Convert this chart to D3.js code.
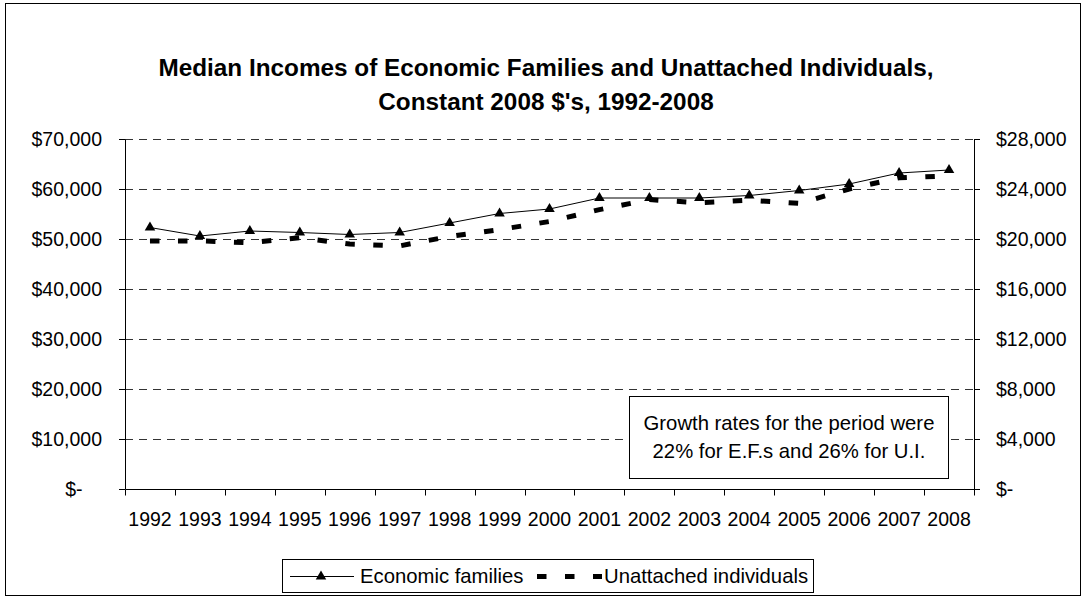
<!DOCTYPE html>
<html>
<head>
<meta charset="utf-8">
<script src="https://cdn.jsdelivr.net/npm/d3@7"></script>
<style>
  body { margin: 0; background: #fff; }
  svg text { font-family: "Liberation Sans", Arial, sans-serif; fill: #000; }
</style>
</head>
<body>
<svg id="chart"></svg>
<script>
const width = 1084;
const height = 596;

// data
const years = ["1992", "1993", "1994", "1995", "1996", "1997", "1998", "1999", "2000",
               "2001", "2002", "2003", "2004", "2005", "2006", "2007", "2008"];
const familyIncome = [52300, 50600, 51600, 51300, 50900, 51300, 53200, 55100, 56000,
                      58200, 58200, 58200, 58700, 59700, 61000, 63200, 63800];
const unattachedIncome = [19850, 19850, 19700, 20100, 19600, 19450, 20200, 20750, 21400,
                          22350, 23150, 22900, 23100, 22850, 24000, 24900, 25050];
const leftTicks = [0, 10000, 20000, 30000, 40000, 50000, 60000, 70000];
const rightTicks = [0, 4000, 8000, 12000, 16000, 20000, 24000, 28000];
const titleLines = ["Median Incomes of Economic Families and Unattached Individuals,",
                    "Constant 2008 $'s, 1992-2008"];
const noteLines = ["Growth rates for the period were", "22% for E.F.s and 26% for U.I."];
const seriesNames = ["Economic families", "Unattached individuals"];

const svg = d3.select("svg#chart");
svg.attr("width", width);
svg.attr("height", height);

// plot area
const plot = { left: 125, right: 974, top: 139, bottom: 489 };

// outer frame
svg.append("rect")
  .attr("x", 5.5).attr("y", 3.5)
  .attr("width", 1075).attr("height", 592)
  .attr("fill", "none")
  .attr("stroke", "#000");

// title
svg.append("g").selectAll("text")
  .data(titleLines)
  .enter()
  .append("text")
  .attr("x", 546)
  .attr("y", (d, i) => 76 + i * 34)
  .attr("text-anchor", "middle")
  .style("font-size", "24.3px")
  .style("font-weight", "bold")
  .text(d => d);

// scales
const x = d3.scaleBand()
  .domain(years)
  .range([plot.left, plot.right])
  .padding(0);
const yLeft = d3.scaleLinear()
  .domain([0, 70000])
  .range([plot.bottom, plot.top]);
const yRight = d3.scaleLinear()
  .domain([0, 28000])
  .range([plot.bottom, plot.top]);

const money = d => d === 0 ? "$-" : d3.format("$,")(d);

// dashed gridlines
svg.append("g").attr("id", "grid")
  .selectAll("line")
  .data(leftTicks.filter(d => d > 0))
  .enter()
  .append("line")
  .attr("x1", plot.left)
  .attr("x2", plot.right)
  .attr("y1", d => yLeft(d) + 0.5)
  .attr("y2", d => yLeft(d) + 0.5)
  .attr("stroke", "#333")
  .attr("stroke-dasharray", "8,6");

// left axis
let leftAxis = svg.append("g")
  .attr("id", "yAxisLeft")
  .attr("transform", "translate(" + plot.left + ",0)")
  .call(d3.axisLeft(yLeft).tickValues(leftTicks).tickSize(6).tickSizeOuter(0)
    .tickPadding(17).tickFormat(money));
leftAxis.selectAll("text")
  .style("font-size", "19.5px")
  .attr("dx", d => d === 0 ? "-1em" : null);

// right axis
let rightAxis = svg.append("g")
  .attr("id", "yAxisRight")
  .attr("transform", "translate(" + plot.right + ",0)")
  .call(d3.axisRight(yRight).tickValues(rightTicks).tickSize(6).tickSizeOuter(0)
    .tickPadding(16).tickFormat(money));
rightAxis.selectAll("text").style("font-size", "19.5px");

// bottom axis: labels in the middle of each band, ticks on the band edges
let xAxis = svg.append("g")
  .attr("id", "xAxis")
  .attr("transform", "translate(0," + plot.bottom + ")")
  .call(d3.axisBottom(x).tickSize(0).tickSizeOuter(0).tickPadding(23));
xAxis.selectAll("text").style("font-size", "19.5px");

const edges = years.map(d => x(d)).concat([x.range()[1]]);
xAxis.append("g").selectAll("line")
  .data(edges)
  .enter()
  .append("line")
  .attr("x1", d => Math.round(d) + 0.5)
  .attr("x2", d => Math.round(d) + 0.5)
  .attr("y1", 0.5)
  .attr("y2", 6.5)
  .attr("stroke", "#000");

svg.selectAll(".domain").attr("stroke", "#000");
svg.selectAll(".tick line").attr("stroke", "#000");

const cx = (d, i) => x(years[i]) + x.bandwidth() / 2;

// unattached individuals (right axis)
svg.append("path")
  .datum(unattachedIncome)
  .attr("fill", "none")
  .attr("stroke", "#000")
  .attr("stroke-width", 5)
  .attr("stroke-dasharray", "9.5,18.5")
  .attr("d", d3.line().x(cx).y(d => yRight(d)));

// economic families (left axis)
svg.append("path")
  .datum(familyIncome)
  .attr("fill", "none")
  .attr("stroke", "#000")
  .attr("stroke-width", 1)
  .attr("d", d3.line().x(cx).y(d => yLeft(d)));

const tri = d3.symbol(d3.symbolTriangle, 48);
svg.append("g").selectAll("path")
  .data(familyIncome)
  .enter()
  .append("path")
  .attr("d", tri)
  .attr("transform", (d, i) => "translate(" + cx(d, i) + "," + yLeft(d) + ")")
  .attr("fill", "#000");

// note box
let note = svg.append("g").attr("id", "note");
note.append("rect")
  .attr("x", 629.5).attr("y", 396.5)
  .attr("width", 319).attr("height", 82)
  .attr("fill", "#fff")
  .attr("stroke", "#000");
note.selectAll("text")
  .data(noteLines)
  .enter()
  .append("text")
  .attr("x", 789)
  .attr("y", (d, i) => 430 + i * 28)
  .attr("text-anchor", "middle")
  .style("font-size", "20.3px")
  .text(d => d);

// legend
let legend = svg.append("g").attr("id", "legend");
legend.append("rect")
  .attr("x", 282.5).attr("y", 559.5)
  .attr("width", 531).attr("height", 33)
  .attr("fill", "#fff")
  .attr("stroke", "#000");
legend.append("line")
  .attr("x1", 290).attr("x2", 354)
  .attr("y1", 576.5).attr("y2", 576.5)
  .attr("stroke", "#000");
legend.append("path")
  .attr("d", tri)
  .attr("transform", "translate(321,576.5)");
legend.append("text")
  .attr("x", 360).attr("y", 583)
  .style("font-size", "20.3px")
  .text(seriesNames[0]);
legend.append("line")
  .attr("x1", 537).attr("x2", 602)
  .attr("y1", 576.5).attr("y2", 576.5)
  .attr("stroke", "#000")
  .attr("stroke-width", 5)
  .attr("stroke-dasharray", "9.5,18.5");
legend.append("text")
  .attr("x", 604).attr("y", 583)
  .style("font-size", "20.3px")
  .text(seriesNames[1]);
</script>
</body>
</html>
